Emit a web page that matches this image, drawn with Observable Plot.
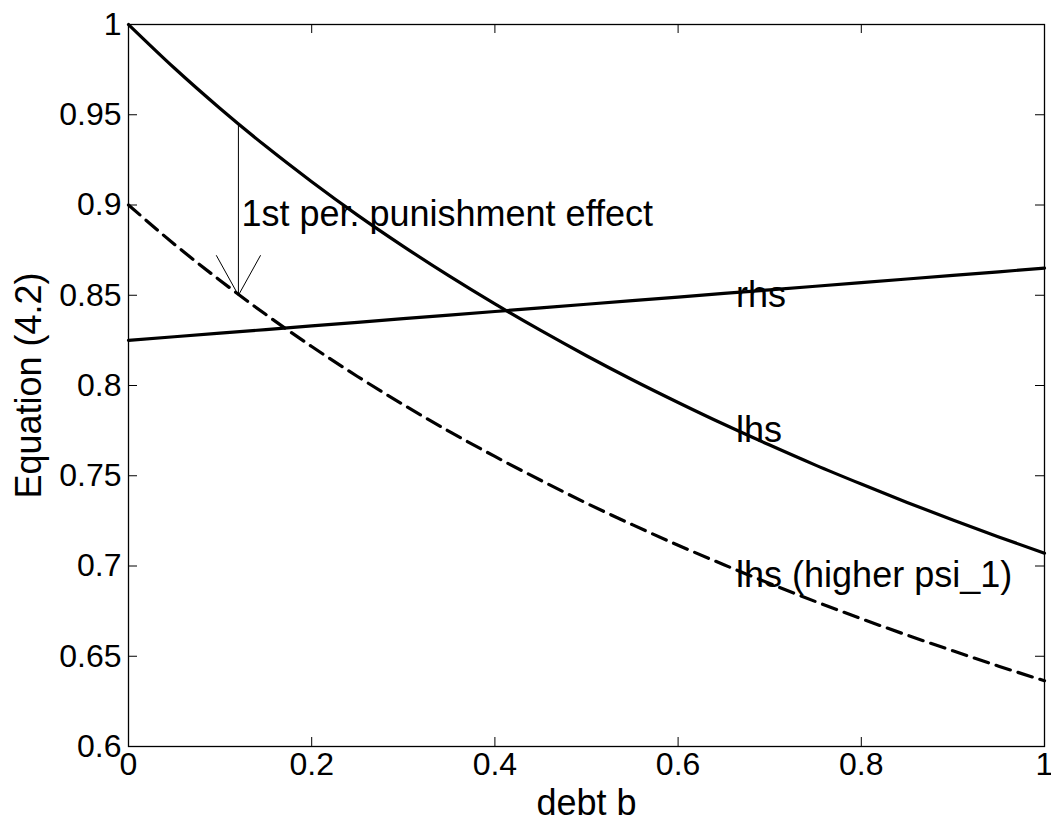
<!DOCTYPE html>
<html>
<head>
<meta charset="utf-8">
<script src="https://cdn.jsdelivr.net/npm/d3@7"></script>
<script src="https://cdn.jsdelivr.net/npm/@observablehq/plot@0.6"></script>
<style>
  html, body { margin: 0; padding: 0; background: white; overflow: hidden; }
</style>
</head>
<body>
<script>
// debt grid (x)
const debtB = [0, 0.05, 0.1, 0.15, 0.2, 0.25, 0.3, 0.35, 0.4, 0.45, 0.5,
               0.55, 0.6, 0.65, 0.7, 0.75, 0.8, 0.85, 0.9, 0.95, 1];
// lhs of equation (4.2)
const lhs = [1.0000, 0.9759, 0.9535, 0.9325, 0.9129, 0.8944, 0.8771, 0.8607, 0.8452, 0.8305, 0.8165,
             0.8032, 0.7906, 0.7785, 0.7670, 0.7559, 0.7454, 0.7352, 0.7255, 0.7161, 0.7071];
// lhs with higher psi_1 (dashed)
const lhsHigherPsi = [0.9000, 0.8783, 0.8582, 0.8393, 0.8216, 0.8050, 0.7894, 0.7746, 0.7607, 0.7475, 0.7348,
                      0.7229, 0.7115, 0.7007, 0.6903, 0.6803, 0.6708, 0.6617, 0.6530, 0.6445, 0.6364];
// rhs of equation (4.2)
const rhs = [0.825, 0.827, 0.829, 0.831, 0.833, 0.835, 0.837, 0.839, 0.841, 0.843, 0.845,
             0.847, 0.849, 0.851, 0.853, 0.855, 0.857, 0.859, 0.861, 0.863, 0.865];

const xTicks = [0, 0.2, 0.4, 0.6, 0.8, 1];
const yTicks = [0.6, 0.65, 0.7, 0.75, 0.8, 0.85, 0.9, 0.95, 1];
const xTickLabels = ["0", "0.2", "0.4", "0.6", "0.8", "1"];
const yTickLabels = ["0.6", "0.65", "0.7", "0.75", "0.8", "0.85", "0.9", "0.95", "1"];

// curve labels (text, debt position, value position)
const labelText = ["rhs", "lhs", "lhs (higher psi_1)", "1st per. punishment effect"];
const labelB = [0.66, 0.66, 0.66, 0.12];
const labelV = [0.85, 0.775, 0.695, 0.895];

// annotation arrow: from lhs down to dashed lhs at b = 0.12
const arrowB = [0.12];
const arrowFrom = [0.945];
const arrowTo = [0.85];

const xLabel = "debt b";
const yLabel = "Equation (4.2)";

const rows = debtB.map((b, i) => ({b, lhs: lhs[i], lhsHigh: lhsHigherPsi[i], rhs: rhs[i]}));
const arrows = arrowB.map((b, i) => ({b, from: arrowFrom[i], to: arrowTo[i]}));

const W = 1051, H = 826, ML = 128, MR = 7, MT = 24, MB = 80;
const innerW = W - ML - MR, innerH = H - MT - MB, tick = 9;
const FS_TICK = 32, FS_TEXT = 36;

const chart = Plot.plot({
  width: W, height: H,
  marginLeft: ML, marginRight: MR, marginTop: MT, marginBottom: MB,
  x: {domain: [0, 1], label: null},
  y: {domain: [0.6, 1], label: null},
  style: {fontFamily: "'Liberation Sans', Arial, Helvetica, sans-serif", fontSize: FS_TICK + "px", color: "black", background: "white"},
  marks: [
    Plot.axisX(xTicks, {tickSize: 0, tickPadding: 6, tickFormat: (d) => xTickLabels[xTicks.indexOf(d)], label: null, fontSize: FS_TICK}),
    Plot.axisY(yTicks, {tickSize: 0, tickPadding: 7, tickFormat: (d) => yTickLabels[yTicks.indexOf(d)], label: null, fontSize: FS_TICK}),
    // inward ticks on all four sides
    Plot.tickX(xTicks, {x: d => d, insetTop: innerH - tick, stroke: "black", strokeWidth: 1}),
    Plot.tickX(xTicks, {x: d => d, insetBottom: innerH - tick, stroke: "black", strokeWidth: 1}),
    Plot.tickY(yTicks, {y: d => d, insetRight: innerW - tick, stroke: "black", strokeWidth: 1}),
    Plot.tickY(yTicks, {y: d => d, insetLeft: innerW - tick, stroke: "black", strokeWidth: 1}),
    Plot.line(rows, {x: "b", y: "lhs", stroke: "black", strokeWidth: 3.2, curve: "monotone-x"}),
    Plot.line(rows, {x: "b", y: "lhsHigh", stroke: "black", strokeWidth: 3.2, strokeDasharray: "15,8", curve: "monotone-x"}),
    Plot.line(rows, {x: "b", y: "rhs", stroke: "black", strokeWidth: 3.2}),
    Plot.arrow(arrows, {x1: "b", x2: "b", y1: "from", y2: "to", stroke: "black", strokeWidth: 1, headLength: 68, headAngle: 58}),
    Plot.text(labelText, {x: (d, i) => labelB[i], y: (d, i) => labelV[i], text: d => d, textAnchor: "start", lineAnchor: "middle", dx: 3, fontSize: FS_TEXT, fill: "black"}),
    Plot.text([xLabel], {frameAnchor: "bottom", text: d => d, dy: 68, textAnchor: "middle", lineAnchor: "bottom", fontSize: FS_TEXT, fill: "black"}),
    Plot.text([yLabel], {frameAnchor: "left", text: d => d, dx: -88, rotate: -90, textAnchor: "middle", lineAnchor: "bottom", fontSize: FS_TEXT, fill: "black"}),
    Plot.frame({stroke: "black", strokeWidth: 1.3})
  ]
});
document.body.appendChild(chart);
</script>
</body>
</html>
